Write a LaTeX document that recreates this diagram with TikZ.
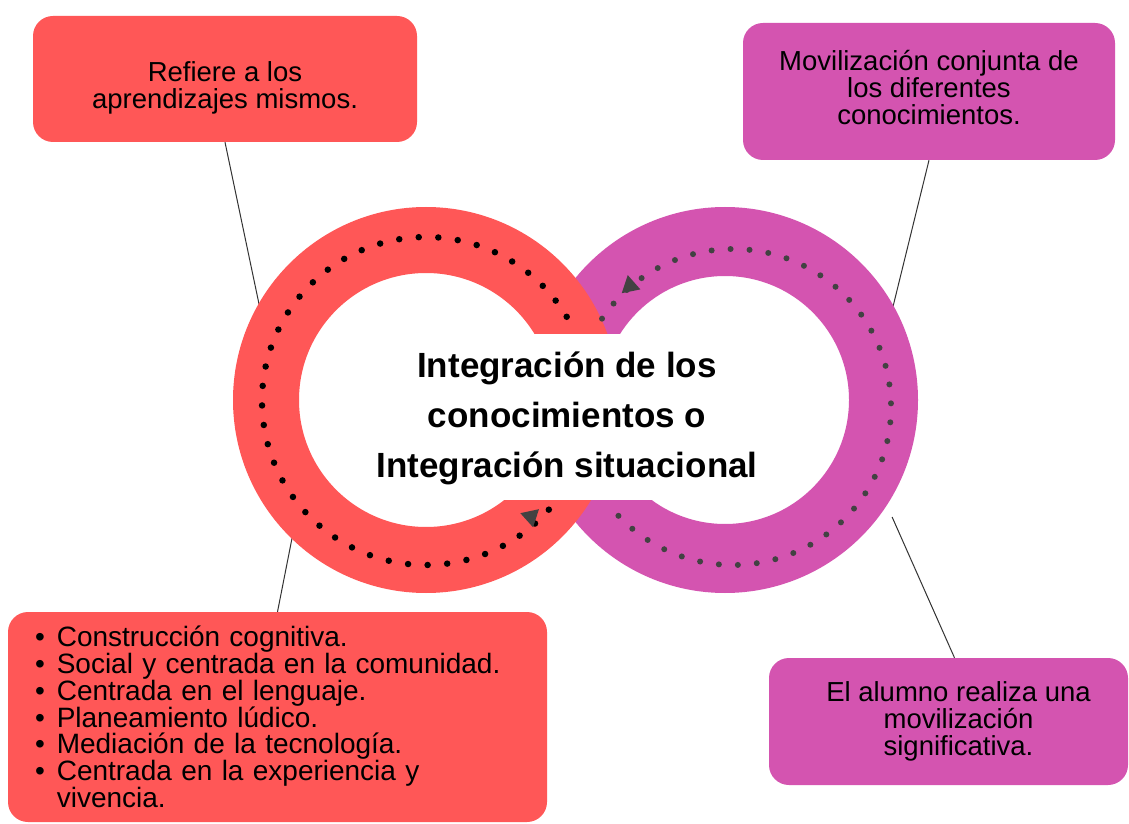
\documentclass[tikz,border=0pt]{standalone}
\usepackage{fontspec}
\setmainfont{Liberation Sans}
\usepackage{xcolor}
\usetikzlibrary{shapes.geometric}
\definecolor{coral}{HTML}{FF5757}
\definecolor{orchid}{HTML}{D454B0}
\definecolor{dotgrey}{HTML}{424242}
\newcommand{\tightlines}{\lineskiplimit -100pt\relax}
\tikzstyle{redbox} = [rectangle, rounded corners=20pt, fill=coral, align=center, inner sep=0pt, font=\fontsize{27.5}{27}\selectfont\tightlines]
\tikzstyle{purplebox} = [rectangle, rounded corners=20pt, fill=orchid, align=center, inner sep=0pt, font=\fontsize{27.5}{27}\selectfont\tightlines]
\tikzstyle{connector} = [draw=black!80, line width=1pt]
\tikzstyle{reddots} = [draw=black, line width=6.5pt, line cap=round, dash pattern=on 0pt off 19.6pt]
\tikzstyle{purpledots} = [draw=dotgrey, line width=6pt, line cap=round, dash pattern=on 0pt off 19pt]
\tikzstyle{marker} = [regular polygon, regular polygon sides=3, fill=dotgrey, minimum size=22pt, inner sep=0pt]

\begin{document}
\begin{tikzpicture}[x=1pt, y=1pt]

\fill[white] (0,0) rectangle (1129,823);
\useasboundingbox (0,0) rectangle (1129,823);

% Centres of the rings
\coordinate (rc) at (426,423);
\coordinate (pc) at (725,423);
\coordinate (rdc) at (426,422);
\coordinate (pdc) at (733,416);

% Boxes
\node (refiere) [redbox, minimum width=384pt, minimum height=126pt] at (225,744) {\rule{0pt}{37pt}Refiere a los\\aprendizajes mismos.};
\node (moviliz) [purplebox, minimum width=372pt, minimum height=137pt] at (929,731.5) {Movilización conjunta de\\los diferentes\\conocimientos.\rule[-9pt]{0pt}{9pt}};
\node (alumno) [purplebox, minimum width=359pt, minimum height=127pt] at (948.5,101.5) {\hspace*{20pt}El alumno realiza una\\\hspace*{20pt}movilización\\\hspace*{20pt}significativa.};
\node (lista) [redbox, minimum width=539pt, minimum height=210pt, text width=485pt, align=left, font=\fontsize{28}{26.8}\selectfont\tightlines] at (277.5,106) {%
\textbullet\hspace{12pt}Construcción cognitiva.\\
\textbullet\hspace{12pt}Social y centrada en la comunidad.\\
\textbullet\hspace{12pt}Centrada en el lenguaje.\\
\textbullet\hspace{12pt}Planeamiento lúdico.\\
\textbullet\hspace{12pt}Mediación de la tecnología.\\
\textbullet\hspace{12pt}Centrada en la experiencia y\\
\phantom{\textbullet}\hspace{12pt}vivencia.};

% Connectors
\path (rc) ++(151:190pt) coordinate (redNW);
\path (rc) ++(225:188pt) coordinate (redSW);
\path (pc) ++(29:192pt) coordinate (purNE);
\path (pc) ++(-35:204pt) coordinate (purSE);
\draw [connector] (refiere.south) -- (redNW);
\draw [connector] (lista.north) -- (redSW);
\draw [connector] (moviliz.south) -- (purNE);
\draw [connector] ([xshift=6pt]alumno.north) -- (purSE);

% Rings
\fill[orchid, even odd rule] (pc) circle[radius=193pt] (pc) circle[radius=124pt];
\fill[coral, even odd rule] (rc) circle[radius=193pt] (rc) circle[radius=127pt];
\fill[white] (440,323) rectangle (710,489);

% Dotted paths with markers
\draw [reddots] (rdc) ++(-41.5:164pt) arc[start angle=-41.5, end angle=-333.3, radius=164pt];
\draw [purpledots] (pdc) ++(146:158pt) arc[start angle=146, end angle=-139.3, radius=158pt];
\path (rdc) ++(-47.8:156pt) node (redtip) [marker, rotate=-168] {};
\path (pdc) ++(130.4:159pt) node (purtip) [marker, rotate=11.5] {};

% Title
\node (tema) [font=\fontsize{35}{50}\selectfont\bfseries, align=center] at (567,405) {Integración de los\\conocimientos o\\Integración situacional};

\end{tikzpicture}
\end{document}
